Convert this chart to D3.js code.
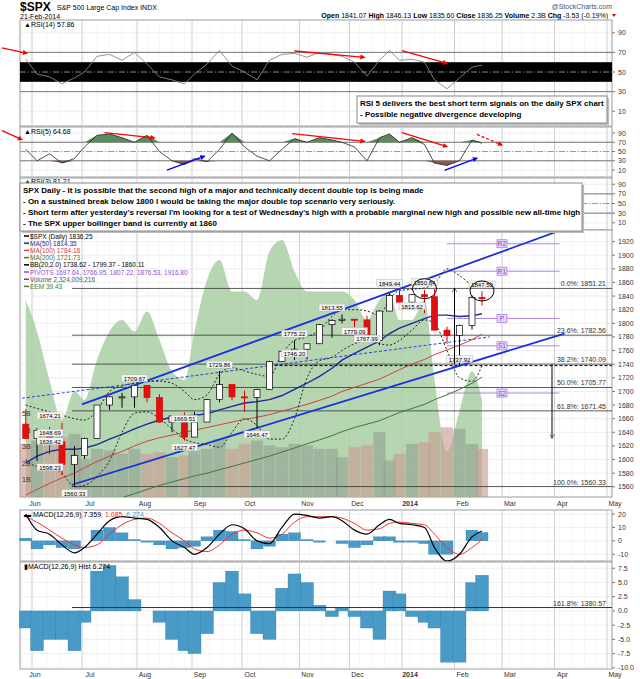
<!DOCTYPE html>
<html><head><meta charset="utf-8">
<script src="https://cdn.jsdelivr.net/npm/d3@7"></script>
<style>
body{margin:0;background:#fff}
svg{font-family:"Liberation Sans",Arial,sans-serif}
.ax{font-size:7px;fill:#333}
.box text{font-size:8px;font-weight:bold;fill:#000}
.leg{font-size:6.5px}
</style></head><body>
<svg id="chart" width="640" height="679"></svg>
<script>
// ---- data (weekly) ----
const weekEnds = ['2013-05-31','2013-06-07','2013-06-14','2013-06-21','2013-06-28','2013-07-05','2013-07-12','2013-07-19','2013-07-26',
 '2013-08-02','2013-08-09','2013-08-16','2013-08-23','2013-08-30','2013-09-06','2013-09-13','2013-09-20','2013-09-27',
 '2013-10-04','2013-10-11','2013-10-18','2013-10-25','2013-11-01','2013-11-08','2013-11-15','2013-11-22','2013-11-29',
 '2013-12-06','2013-12-13','2013-12-20','2013-12-27','2014-01-03','2014-01-10','2014-01-17','2014-01-24','2014-01-31',
 '2014-02-07','2014-02-14','2014-02-21'];
const openP  = [1652,1631,1643,1626,1593,1606,1631,1680,1692,1692,1709,1691,1655,1664,1633,1655,1688,1710,1692,1691,1703,1744,1759,1762,1770,1798,1804,1806,1805,1775,1818,1841,1831,1842,1839,1790,1782,1797,1838];
const highP  = [1674,1646,1648,1654,1620,1632,1680,1693,1698,1709,1709,1696,1665,1669,1670,1689,1730,1710,1701,1704,1745,1760,1775,1770,1799,1806,1813,1806,1811,1819,1844,1849,1843,1849,1850,1795,1798,1841,1847];
const lowP   = [1630,1598,1608,1577,1560,1601,1631,1673,1676,1676,1684,1654,1640,1628,1633,1655,1684,1687,1670,1646,1703,1743,1746,1747,1770,1779,1800,1779,1775,1768,1818,1831,1823,1815,1790,1770,1738,1791,1826];
const closeP = [1631,1643,1626,1593,1606,1631,1680,1692,1692,1709,1691,1655,1664,1633,1655,1688,1710,1692,1691,1703,1744,1759,1762,1770,1798,1804,1806,1805,1775,1818,1841,1831,1842,1839,1790,1782,1797,1838,1836];
const ma50  = [1595,1605,1612,1615,1615,1617,1622,1630,1637,1645,1652,1658,1662,1664,1665,1667,1673,1678,1683,1685,1688,1694,1703,1712,1722,1734,1746,1756,1765,1774,1785,1793,1800,1807,1812,1812,1810,1811,1814];
const ma100 = [1548,1556,1565,1573,1580,1588,1597,1605,1612,1620,1627,1632,1636,1640,1643,1647,1651,1655,1659,1662,1666,1671,1676,1681,1687,1693,1700,1706,1712,1718,1725,1732,1740,1747,1754,1761,1768,1776,1784];
const ma200 = [1500,1505,1511,1517,1522,1527,1532,1538,1544,1550,1556,1562,1567,1572,1576,1580,1585,1590,1595,1600,1605,1611,1617,1623,1629,1635,1641,1647,1652,1657,1663,1669,1675,1681,1688,1695,1703,1712,1721];
const bbUp  = [1680,1675,1670,1665,1660,1658,1672,1700,1708,1712,1715,1715,1712,1700,1688,1695,1725,1735,1730,1725,1722,1755,1775,1780,1790,1810,1820,1820,1818,1812,1835,1848,1850,1852,1858,1880,1870,1858,1860];
const bbLow = [1600,1590,1590,1580,1560,1562,1575,1598,1640,1668,1670,1660,1645,1630,1625,1622,1618,1640,1660,1650,1630,1630,1660,1720,1745,1750,1760,1770,1775,1770,1768,1775,1790,1805,1800,1760,1720,1715,1738];
const volume = [3.2,3.4,3.1,3.6,3.8,2.3,2.9,2.8,2.6,2.9,2.6,2.7,2.4,2.5,2.8,2.9,3.5,2.9,3.2,3.4,3.1,3.0,3.2,3.1,2.9,2.9,2.4,3.0,3.1,3.9,2.2,2.6,3.2,3.3,3.9,4.2,4.1,3.2,2.9];
const volumeTicks = [1,2,3,4,5];
const eem = [42.9,41.8,40.1,38.7,39.7,39.4,40.8,41.8,42.2,41.8,42.5,41.5,40.4,40.1,41.8,43.6,44.3,43.2,43.2,42.9,44.6,45.0,43.9,43.2,43.2,43.2,43.2,42.9,42.2,42.9,43.2,42.2,42.2,42.9,40.1,37.6,39.0,40.4,39.4];
const rsi14 = [63,48,45,38,44,50,66,68,62,70,58,45,42,38,48,58,72,56,50,42,62,68,69,65,70,68,66,60,46,62,72,62,63,60,42,33,44,55,57];
const rsi5  = [55,30,45,25,35,60,85,88,80,70,85,50,30,22,35,28,55,90,60,40,30,55,78,70,80,75,70,60,30,80,88,70,80,65,25,20,30,75,68];
const macd   = [20,8,5,-3,-9,-5,5,15,18,17,16,10,0,-5,-10,-5,5,12,9,0,-2,10,20,19,17,18,15,8,5,12,16,13,12,10,-5,-15,-10,3,7.36];
const signal = [18,14,8,2,-3,-5,-3,5,12,16,17,13,6,0,-6,-8,-3,5,8,6,2,5,14,18,18,18,17,13,8,9,13,14,13,12,5,-5,-10,-5,1.09];
const hist   = [-3,-7,-5,-5,-7,-2,7,8,6,2,0,-2,-5,-7,-7.5,-4,5,7,3,-4,-5,4,6.5,5,1,-1,0.5,-1,-3,-5,3.5,3,-1,-2,-3,-9,-9,5,6.27];
const priceTicks = d3.range(1560, 1921, 20);
const fibLevels = [['0.0%',1851.21],['23.6%',1782.56],['38.2%',1740.09],['50.0%',1705.77],['61.8%',1671.45],['100.0%',1560.33]];
const pivots = [['R2',1916.80],['R1',1876.53],['P',1807.22],['S1',1766.95],['S2',1697.64]];
// price notes: [week index, price, label]
const priceNotes = [[0,1674.21,'1674.21'],[1,1648.69,'1648.69'],[0,1636.42,'1636.42'],[2,1598.23,'1598.23'],[4,1560.33,'1560.33'],
 [9,1709.67,'1709.67'],[13,1669.51,'1669.51'],[13,1627.47,'1627.47'],[16,1729.86,'1729.86'],[19,1646.47,'1646.47'],
 [22,1775.22,'1775.22'],[22,1746.20,'1746.20'],[27,1779.09,'1779.09'],[28,1767.99,'1767.99'],[25,1813.55,'1813.55'],
 [30,1849.44,'1849.44'],[33,1850.84,'1850.84'],[32,1815.62,'1815.62'],[36,1737.92,'1737.92'],[38,1847.50,'1847.50']];
const holidays = ['2013-07-04','2013-09-02','2013-11-28','2013-12-25','2014-01-01','2014-01-20','2014-02-17','2014-04-18','2014-05-26'];
// arrows: [panel, day0, v0, day1, v1, colour, dashed]
const arrows = [['r14',-8,74.5,2,69,'red'],['r14',109,71.4,137,65,'red'],['r14',152,71.7,170,58.8,'red'],
 ['r5',-8,95,0,75.6,'red'],['r5',33,91,53,79.5,'red'],['r5',58,10,73,40,'blue'],['r5',108,88.6,137,72,'red'],
 ['r5',152,91,170,60.7,'red'],['r5',169,9.5,182,35.7,'blue'],['r5',182,87,192,64,'red',true]];

// ---- trading day calendar ----
const days = [];
for (let d = new Date(Date.UTC(2013,4,28)); d <= new Date(Date.UTC(2014,4,30)); d.setUTCDate(d.getUTCDate()+1)) {
  const s = d.toISOString().slice(0,10), wd = d.getUTCDay();
  if (wd === 0 || wd === 6 || holidays.includes(s)) continue;
  days.push(s);
}
const wx = weekEnds.map(w => Math.max(1.5, days.indexOf(w) - 2));
const monthStarts = [];
days.forEach((s, i) => { if (i > 0 && s.slice(5,7) !== days[i-1].slice(5,7)) monthStarts.push([i, s]); });
const monthNames = ['Jan','Feb','Mar','Apr','May','Jun','Jul','Aug','Sep','Oct','Nov','Dec'];

const svg = d3.select('#chart');
const L = 20, R = 612;
const x = d3.scaleLinear().domain([0, 236]).range([22, 612]);

// header
svg.append('text').attr('x',20).attr('y',11).attr('font-size',12).attr('font-weight','bold').text('$SPX');
svg.append('text').attr('x',57).attr('y',10).attr('font-size',7).text('S&P 500 Large Cap Index  INDX');
svg.append('text').attr('x',20).attr('y',18.5).attr('font-size',7).text('21-Feb-2014');
svg.append('text').attr('x',612).attr('y',9).attr('font-size',7).attr('fill','#555').attr('text-anchor','end').text('@StockCharts.com');
const hdr = svg.append('text').attr('x',608).attr('y',18).attr('font-size',7).attr('text-anchor','end');
[['Open ',1],[' 1841.07 ',0],['High ',1],[' 1846.13 ',0],['Low ',1],[' 1835.60 ',0],['Close ',1],[' 1836.25 ',0],['Volume ',1],[' 2.3B ',0],['Chg ',1],[' -3.53 (-0.19%) ',0]]
  .forEach(([t,b]) => hdr.append('tspan').attr('font-weight', b ? 'bold' : 'normal').text(t));
svg.append('path').attr('d','M612,14 l4,0 l-2,3z').attr('fill','#c00');

function panel(top, bottom, domain, ticks, fmt) {
  const y = d3.scaleLinear().domain(domain).range([bottom, top]);
  const g = svg.append('g');
  g.append('rect').attr('x',L).attr('y',top).attr('width',R-L).attr('height',bottom-top).attr('fill','#fff').attr('stroke','#999');
  d3.range(0, 236, 5).forEach(i => g.append('line').attr('x1',x(i)).attr('x2',x(i)).attr('y1',top).attr('y2',bottom).attr('stroke','#eee').attr('stroke-width',0.5));
  monthStarts.forEach(([i]) => g.append('line').attr('x1',x(i)).attr('x2',x(i)).attr('y1',top).attr('y2',bottom).attr('stroke','#ccc'));
  ticks.forEach(t => {
    g.append('line').attr('x1',L).attr('x2',R).attr('y1',y(t)).attr('y2',y(t)).attr('stroke','#e4e4e4').attr('stroke-width',0.6);
    g.append('line').attr('x1',R).attr('x2',R+3).attr('y1',y(t)).attr('y2',y(t)).attr('stroke','#777');
    g.append('text').attr('class','ax').attr('x',R+6).attr('y',y(t)+2.5).text(fmt ? fmt(t) : t);
  });
  return {y, g, top, bottom};
}
const line = (y, vals) => d3.line().x((d,i) => x(wx[i])).y(d => y(d))(vals);
const defs = svg.append('defs');
['red','blue'].forEach(c => defs.append('marker').attr('id','ah-'+c).attr('viewBox','0 0 10 10').attr('refX',8).attr('refY',5)
  .attr('markerWidth',4).attr('markerHeight',4).attr('orient','auto').append('path').attr('d','M0,0L10,5L0,10z').attr('fill',c));

function rsiPanel(top, bottom) {
  const p = panel(top, bottom, [-5,103], [10,30,50,70,90]);
  [70,30].forEach(v => p.g.append('line').attr('x1',L).attr('x2',R).attr('y1',p.y(v)).attr('y2',p.y(v)).attr('stroke','#777'));
  p.g.append('line').attr('x1',L).attr('x2',R).attr('y1',p.y(50)).attr('y2',p.y(50)).attr('stroke','#999').attr('stroke-dasharray','6,2,1,2');
  return p;
}
// RSI(14)
const r14 = rsiPanel(20, 126);
r14.g.append('rect').attr('x',L).attr('y',r14.y(60)).attr('width',R-L).attr('height',r14.y(40)-r14.y(60)).attr('fill','#000');
r14.g.append('line').attr('x1',L).attr('x2',R).attr('y1',r14.y(50)).attr('y2',r14.y(50)).attr('stroke','#888').attr('stroke-dasharray','6,2,1,2');
r14.g.append('path').attr('d',line(r14.y,rsi14)).attr('fill','none').attr('stroke','#888').attr('stroke-width',0.9);
r14.g.append('text').attr('x',24).attr('y',27).attr('font-size',7).text('▲RSI(14) 57.86');
// RSI(5)
const r5 = rsiPanel(127, 177);
const area5 = (cut, above) => d3.area().x((d,i)=>x(wx[i])).y0(r5.y(cut)).y1(d => above ? r5.y(Math.max(d,cut)) : r5.y(Math.min(d,cut)))(rsi5);
r5.g.append('path').attr('d',area5(70,true)).attr('fill','#5b8a5b');
r5.g.append('path').attr('d',area5(30,false)).attr('fill','#8a5b4b');
r5.g.append('path').attr('d',line(r5.y,rsi5)).attr('fill','none').attr('stroke','#222').attr('stroke-width',0.8);
r5.g.append('text').attr('x',24).attr('y',134).attr('font-size',7).text('▲RSI(5) 64.68');
// RSI(3) (mostly hidden by the note)
const r3 = rsiPanel(178, 230);
r3.g.append('text').attr('x',24).attr('y',184).attr('font-size',7).text('▲RSI(3) 81.21');
arrows.forEach(([pn,d0,v0,d1,v1,c,dash]) => {
  const yy = pn === 'r14' ? r14.y : r5.y;
  svg.append('line').attr('x1',x(d0)).attr('y1',yy(v0)).attr('x2',x(d1)).attr('y2',yy(v1))
    .attr('stroke',c).attr('stroke-width',1.3).attr('stroke-dasharray',dash?'3,2':null).attr('marker-end',`url(#ah-${c})`);
});

// price panel
const pp = panel(230, 497, [1545,1937], priceTicks);
const py = pp.y;
defs.append('clipPath').attr('id','pclip').append('rect').attr('x',L).attr('y',230).attr('width',R-L).attr('height',267);
const pg = pp.g.append('g').attr('clip-path','url(#pclip)');
const ey = d3.scaleLinear().domain([36,45]).range([497,240]);
pg.append('path').attr('d',d3.area().x((d,i)=>x(wx[i])).y0(497).y1(d=>ey(d)).curve(d3.curveMonotoneX)(eem)).attr('fill','#a9cfa5').attr('opacity',0.85);
const vy = d3.scaleLinear().domain([0,5]).range([497,414]);
volume.forEach((v,i) => pg.append('rect').attr('x',x(wx[i])-6).attr('width',12).attr('y',vy(v)).attr('height',497-vy(v))
  .attr('fill', closeP[i] >= openP[i] ? '#8f9f8f' : '#c89890').attr('opacity',0.6));
volumeTicks.forEach(v => pg.append('text').attr('class','ax').attr('x',22).attr('y',vy(v)+2).text(v+'B'));
fibLevels.forEach(([n,v]) => {
  pg.append('line').attr('x1',72).attr('x2',R).attr('y1',py(v)).attr('y2',py(v)).attr('stroke','#333').attr('stroke-width',0.8);
  pg.append('text').attr('class','ax').attr('fill','#777').attr('x',606).attr('y',py(v)-2).attr('text-anchor','end').text(`${n}: ${v.toFixed(2)}`);
});
pg.append('line').attr('x1',x(99)).attr('x2',R).attr('y1',py(1737.92)).attr('y2',py(1737.92)).attr('stroke','#000').attr('stroke-dasharray','3,2');
pivots.forEach(([n,v]) => {
  pg.append('line').attr('x1',x(170)).attr('x2',x(215)).attr('y1',py(v)).attr('y2',py(v)).attr('stroke','#b080e0');
  pg.append('rect').attr('x',x(190)).attr('y',py(v)-4).attr('width',10).attr('height',8).attr('fill','#e8d8f8').attr('stroke','#9060d0').attr('stroke-width',0.6);
  pg.append('text').attr('x',x(190)+5).attr('y',py(v)+2.5).attr('font-size',6.5).attr('fill','#7040c0').attr('text-anchor','middle').text(n);
});
// channel lines
const chan = (d0,v0,d1,v1,w,dash) => pg.append('line').attr('x1',x(d0)).attr('y1',py(v0)).attr('x2',x(d1)).attr('y2',py(v1))
  .attr('stroke','#1a2fe0').attr('stroke-width',w).attr('stroke-dasharray',dash);
chan(20,1563,217,1785,1.8); chan(24,1681,215,1936,1.8); chan(0,1690,187,1780,0.9,'3,2');
pg.append('path').attr('d',line(py,ma200)).attr('fill','none').attr('stroke','#3a7a3a').attr('stroke-width',1);
pg.append('path').attr('d',line(py,ma100)).attr('fill','none').attr('stroke','#d04040').attr('stroke-width',1);
pg.append('path').attr('d',line(py,ma50)).attr('fill','none').attr('stroke','#1a2a9a').attr('stroke-width',1.4);
[bbUp,bbLow].forEach(b => pg.append('path').attr('d',d3.line().x((d,i)=>x(wx[i])).y(d=>py(d)).curve(d3.curveMonotoneX)(b))
  .attr('fill','none').attr('stroke','#222').attr('stroke-width',1).attr('stroke-dasharray','2,2'));
closeP.forEach((c,i) => {
  const up = c >= openP[i], cx = x(wx[i]);
  pg.append('line').attr('x1',cx).attr('x2',cx).attr('y1',py(highP[i])).attr('y2',py(lowP[i])).attr('stroke',up?'#000':'#d00');
  pg.append('rect').attr('x',cx-3).attr('width',6).attr('y',py(Math.max(c,openP[i]))).attr('height',Math.max(1,Math.abs(py(c)-py(openP[i]))))
    .attr('fill',up?'#fff':'#e01010').attr('stroke',up?'#000':'#d00').attr('stroke-width',0.7);
});
priceNotes.forEach(([w,v,t]) => {
  const cx = Math.max(x(wx[w]), L + 30), cy = py(v) + (v > 1700 ? -6 : 7);
  pg.append('rect').attr('x',cx-13).attr('y',cy-4).attr('width',26).attr('height',7).attr('fill','#f4f4f4').attr('stroke','#aaa').attr('stroke-width',0.4);
  pg.append('text').attr('x',cx).attr('y',cy+2).attr('font-size',6).attr('text-anchor','middle').text(t);
});
[[33,1850.84],[38,1847.5]].forEach(([w,v]) => pg.append('ellipse').attr('cx',x(wx[w])).attr('cy',py(v)).attr('rx',12).attr('ry',10)
  .attr('fill','none').attr('stroke','#000').attr('stroke-width',1));
defs.append('marker').attr('id','ah-k').attr('viewBox','0 0 10 10').attr('refX',8).attr('refY',5).attr('markerWidth',5).attr('markerHeight',5)
  .attr('orient','auto').append('path').attr('d','M0,0L10,5L0,10').attr('fill','none').attr('stroke','#000');
pg.append('line').attr('x1',x(173)).attr('x2',x(173)).attr('y1',py(1740)).attr('y2',py(1851)).attr('stroke','#000').attr('marker-end','url(#ah-k)');
pg.append('line').attr('x1',x(212)).attr('x2',x(212)).attr('y1',py(1740)).attr('y2',py(1632)).attr('stroke','#000').attr('marker-end','url(#ah-k)');
const legend = [['#000','$SPX (Daily) 1836.25'],['#1a2a9a','MA(50) 1814.35'],['#d04040','MA(100) 1784.18'],['#3a7a3a','MA(200) 1721.73'],
  ['#000','BB(20,2.0) 1738.62 - 1799.37 - 1860.11'],['#9050d0','PIVOTS 1697.64, 1766.95, 1807.22, 1876.53, 1916.80'],['#555','Volume 2,324,009,216'],['#3a7a3a','EEM 39.43']];
legend.forEach(([c,t],i) => {
  svg.append('line').attr('x1',24).attr('x2',29).attr('y1',236+i*7.2).attr('y2',236+i*7.2).attr('stroke',c).attr('stroke-width',1.5);
  svg.append('text').attr('class','leg').attr('x',30).attr('y',238.5+i*7.2).attr('fill',c).text(t);
});

// month axes
function monthAxis(yy) {
  svg.append('text').attr('class','ax').attr('x',35).attr('y',yy).attr('text-anchor','middle').text('Jun');
  monthStarts.forEach(([i,s]) => {
    const m = +s.slice(5,7);
    if (m === 6) return;
    const lab = m === 1 ? s.slice(0,4) : monthNames[m-1];
    svg.append('text').attr('class','ax').attr('x',x(i)+8).attr('y',yy).attr('text-anchor','middle')
      .attr('font-weight',m===1?'bold':null).attr('font-size',m===1?8:7).text(lab);
  });
}
monthAxis(506);

// MACD
const mp = panel(510, 561, [-15,23], [-10,0,10,20]);
const mhist = macd.map((m,i) => m - signal[i]);
mhist.forEach((h,i) => mp.g.append('rect').attr('x',x(wx[i])-6).attr('width',12).attr('y',Math.min(mp.y(h),mp.y(0))).attr('height',Math.abs(mp.y(h)-mp.y(0)))
  .attr('fill','#4a9ac8').attr('stroke','#2a7aa8').attr('stroke-width',0.3));
mp.g.append('path').attr('d',d3.line().x((d,i)=>x(wx[i])).y(d=>mp.y(d)).curve(d3.curveMonotoneX)(signal)).attr('fill','none').attr('stroke','#f03030').attr('stroke-width',1);
mp.g.append('path').attr('d',d3.line().x((d,i)=>x(wx[i])).y(d=>mp.y(d)).curve(d3.curveMonotoneX)(macd)).attr('fill','none').attr('stroke','#000').attr('stroke-width',1.2);
const ml = svg.append('text').attr('x',24).attr('y',517).attr('font-size',7);
ml.append('tspan').text('▬ MACD(12,26,9) 7.359');
ml.append('tspan').attr('fill','#f03030').text(', 1.085');
ml.append('tspan').attr('fill','#4a9ac8').text(', 6.274');

const hp = panel(562, 669, [-10.2,8.6], [-10,-7.5,-5,-2.5,0,2.5,5,7.5], d => d.toFixed(1));
hist.forEach((h,i) => hp.g.append('rect').attr('x',x(wx[i])-6.5).attr('width',13).attr('y',Math.min(hp.y(h),hp.y(0))).attr('height',Math.abs(hp.y(h)-hp.y(0)))
  .attr('fill','#4a9ac8').attr('stroke','#2a7aa8').attr('stroke-width',0.3));
hp.g.append('line').attr('x1',72).attr('x2',R).attr('y1',hp.y(0.6)).attr('y2',hp.y(0.6)).attr('stroke','#333');
hp.g.append('text').attr('class','ax').attr('fill','#777').attr('x',606).attr('y',hp.y(0.6)-2).attr('text-anchor','end').text('161.8%: 1380.57');
svg.append('text').attr('x',24).attr('y',569).attr('font-size',7).text('▮MACD(12,26,9) Hist 6.274');
monthAxis(677);

// notes
function note(x0,y0,w,h,lines) {
  const g = svg.append('g').attr('class','box');
  g.append('rect').attr('x',x0+2).attr('y',y0+2).attr('width',w).attr('height',h).attr('fill','#bbb');
  g.append('rect').attr('x',x0).attr('y',y0).attr('width',w).attr('height',h).attr('fill','#fff').attr('stroke','#888');
  lines.forEach((t,i) => g.append('text').attr('x',x0+3).attr('y',y0+10+i*11).text(t));
}
note(357,96,250,27,['RSI 5 delivers the best short term signals on the daily SPX chart','- Possible negative divergence developing']);
note(20,183,562,48,['SPX Daily - It is possible that the second high of a major and technically decent double top is being made',
 '- On a sustained break below 1800 I would be taking the major double top scenario very seriously.',
 "- Short term after yesterday's reversal I'm looking for a test of Wednesday's high with a probable marginal new high and possible new all-time high",
 '- The SPX upper bollinger band is currently at 1860']);
</script></body></html>
